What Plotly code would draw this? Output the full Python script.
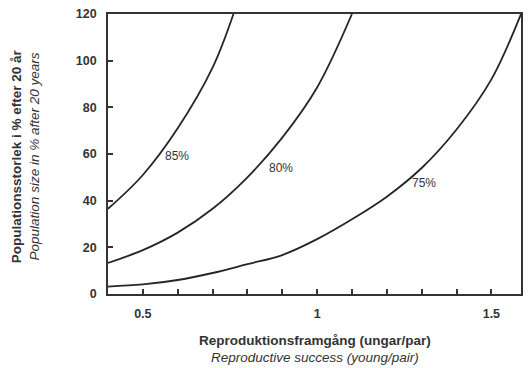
import plotly.graph_objects as go

# Reproductive success (young/pair)
x_85 = [0.4, 0.5, 0.6, 0.7, 0.76]
y_85 = [36.5, 51, 71, 97, 120]

x_80 = [0.4, 0.5, 0.6, 0.7, 0.8, 0.9, 1.0, 1.1]
y_80 = [13.3, 18.8, 26.3, 36.5, 50, 67, 88.5, 120]

x_75 = [0.4, 0.5, 0.6, 0.7, 0.8, 0.9, 1.0, 1.1, 1.2, 1.3, 1.4, 1.5, 1.585]
y_75 = [3.2, 4.1, 6.0, 9.0, 12.8, 16.7, 23.5, 32, 41.7, 54, 70.5, 92, 120]

series_labels = ["85%", "80%", "75%"]

x_tickvals = [0.5, 0.6, 0.7, 0.8, 0.9, 1.0, 1.1, 1.2, 1.3, 1.4, 1.5]
x_ticktext = ["0.5", "", "", "", "", "1", "", "", "", "", "1.5"]
y_tickvals = [0, 20, 40, 60, 80, 100, 120]

x_title = ["Reproduktionsframgång (ungar/par)", "Reproductive success (young/pair)"]
y_title = ["Populationsstorlek i % efter 20 år", "Population size in % after 20 years"]

line_color = "#262626"
axis_color = "#333333"
text_color = "#333333"
font_family = "Liberation Sans, Arial, sans-serif"

fig = go.Figure()
for xs, ys, name in [(x_85, y_85, series_labels[0]),
                     (x_80, y_80, series_labels[1]),
                     (x_75, y_75, series_labels[2])]:
    fig.add_trace(go.Scatter(
        x=xs, y=ys, mode="lines", name=name,
        line=dict(color=line_color, width=1.8, shape="spline", smoothing=1.0),
        showlegend=False, hoverinfo="skip", cliponaxis=True,
    ))

label_pos = [(0.599, 59.1), (0.895, 53.8), (1.308, 47.6)]
for txt, (lx, ly) in zip(series_labels, label_pos):
    fig.add_annotation(x=lx, y=ly, text=txt, showarrow=False,
                       font=dict(family=font_family, size=12, color=text_color),
                       xanchor="center", yanchor="middle")

# axis titles (two lines each: bold Swedish, italic English)
fig.add_annotation(xref="paper", yref="paper", x=0.5, y=-0.167,
                   text="<b>" + x_title[0] + "</b>", showarrow=False,
                   font=dict(family=font_family, size=13.5, color=text_color),
                   xanchor="center", yanchor="middle")
fig.add_annotation(xref="paper", yref="paper", x=0.5, y=-0.226,
                   text="<i>" + x_title[1] + "</i>", showarrow=False,
                   font=dict(family=font_family, size=13.5, color=text_color),
                   xanchor="center", yanchor="middle")
fig.add_annotation(xref="paper", yref="paper", x=-0.221, y=0.491,
                   text="<b>" + y_title[0] + "</b>", showarrow=False, textangle=-90,
                   font=dict(family=font_family, size=13.5, color=text_color),
                   xanchor="center", yanchor="middle")
fig.add_annotation(xref="paper", yref="paper", x=-0.177, y=0.491,
                   text="<i>" + y_title[1] + "</i>", showarrow=False, textangle=-90,
                   font=dict(family=font_family, size=13.5, color=text_color),
                   xanchor="center", yanchor="middle")

fig.update_layout(
    width=529, height=368,
    margin=dict(l=108, r=8, t=14, b=74, autoexpand=False),
    paper_bgcolor="white", plot_bgcolor="white",
    font=dict(family=font_family, color=text_color),
)

fig.update_xaxes(
    range=[0.4, 1.585], automargin=False,
    tickmode="array", tickvals=x_tickvals, ticktext=x_ticktext,
    ticks="inside", ticklen=5, tickwidth=1.5, tickcolor=axis_color,
    showline=True, linecolor=axis_color, linewidth=1.8, mirror=True,
    showgrid=False, zeroline=False,
    tickfont=dict(family=font_family, size=12.5, color=text_color, weight="bold"),
    ticklabelstandoff=7,
)

fig.update_yaxes(
    range=[0, 120], automargin=False,
    tickmode="array", tickvals=y_tickvals,
    ticks="inside", ticklen=5, tickwidth=1.5, tickcolor=axis_color,
    showline=True, linecolor=axis_color, linewidth=1.8, mirror=True,
    showgrid=False, zeroline=False,
    tickfont=dict(family=font_family, size=12.5, color=text_color, weight="bold"),
    ticklabelstandoff=7,
)

fig.write_html("out.html", config={"displayModeBar": False},
               post_script="document.body.style.margin='0';")
